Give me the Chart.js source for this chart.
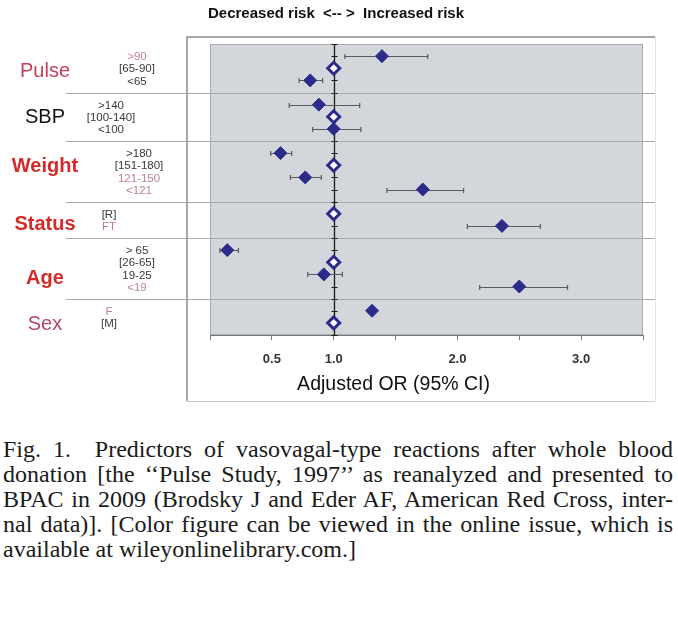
<!DOCTYPE html>
<html>
<head>
<meta charset="utf-8">
<script src="https://cdn.jsdelivr.net/npm/chart.js"></script>
<style>
  body { margin: 0; background: #fff; }
  #wrap { position: relative; width: 678px; height: 410px; }
  #caption {
    position: absolute; left: 3px; top: 437px; width: 670px;
    font-family: "Liberation Serif", "Times New Roman", serif;
    font-size: 24px; line-height: 25px; color: #1a1a1a;
  }
  #caption div { text-align: justify; text-align-last: justify; white-space: nowrap; }
  #caption div.last { text-align-last: left; }
</style>
</head>
<body>
<div id="wrap"><canvas id="forest"></canvas></div>
<div id="caption">
  <div>Fig. 1.&nbsp; Predictors of vasovagal-type reactions after whole blood</div>
  <div>donation [the ‘‘Pulse Study, 1997’’ as reanalyzed and presented to</div>
  <div>BPAC in 2009 (Brodsky J and Eder AF, American Red Cross, inter-</div>
  <div>nal data)]. [Color figure can be viewed in the online issue, which is</div>
  <div class="last">available at wileyonlinelibrary.com.]</div>
</div>
<script>
// predictor groups and their categories (one entry per row)
const groups = ['Pulse', 'SBP', 'Weight', 'Status', 'Age', 'Sex'];
const rowLabels = ['>90', '[65-90]', '<65',
  '>140', '[100-140]', '<100',
  '>180', '[151-180]', '121-150', '<121',
  '[R]', 'FT',
  '> 65', '[26-65]', '19-25', '<19',
  'F', '[M]'];
const rowGroup = [0, 0, 0, 1, 1, 1, 2, 2, 2, 2, 3, 3, 4, 4, 4, 4, 5, 5];
const referenceRow = [false, true, false, false, true, false, false, true, false, false, true, false, false, true, false, false, false, true];

// adjusted odds ratios and 95% CI
const oddsRatio = [1.39, 1.0, 0.81, 0.88, 1.0, 1.0, 0.57, 1.0, 0.77, 1.72, 1.0, 2.36, 0.14, 1.0, 0.92, 2.50, 1.31, 1.0];
const ciLow =  [1.09, null, 0.72, 0.64, null, 0.83, 0.49, null, 0.65, 1.43, null, 2.08, 0.08, null, 0.79, 2.18, null, null];
const ciHigh = [1.76, null, 0.91, 1.21, null, 1.22, 0.66, null, 0.90, 2.05, null, 2.67, 0.23, null, 1.07, 2.89, null, null];

const xTickLabels = [0.5, 1.0, 2.0, 3.0];
const refValue = 1.0;

// styles
const groupStyle = [
  { color: '#c4405a', weight: 'normal', shift: 0.3, subX: 137 },
  { color: '#111111', weight: 'normal', shift: 0.1, subX: 111 },
  { color: '#d42a2a', weight: 'bold', shift: -0.4, subX: 139 },
  { color: '#d42a2a', weight: 'bold', shift: 0.35, subX: 109 },
  { color: '#d42a2a', weight: 'bold', shift: 0.8, subX: 137 },
  { color: '#b04a68', weight: 'normal', shift: 0.6, subX: 109 }
];
const pinkLabels = ['>90', '121-150', '<121', 'FT', '<19', 'F'];
const SANS = '"Liberation Sans", Arial, sans-serif';

// row positions on the y scale: one step per row, one blank step between groups
const rowY = rowLabels.map((l, i) => i + rowGroup[i]);

const filled = [], refs = [];
rowLabels.forEach((l, i) => {
  const p = { x: oddsRatio[i], y: rowY[i] };
  (referenceRow[i] ? refs : filled).push(p);
});

const forestDecor = {
  id: 'forestDecor',
  beforeDraw(chart) {
    const { ctx, chartArea: a } = chart;
    ctx.save();
    // outer frame
    const fl = a.left - 23, fr = a.right + 12, ft = a.top - 7, fb = a.bottom + 66;
    ctx.lineWidth = 1;
    ctx.strokeStyle = '#e2e2e2';
    ctx.beginPath(); ctx.moveTo(fr + 0.5, ft); ctx.lineTo(fr + 0.5, fb); ctx.stroke();
    ctx.strokeStyle = '#c8c8c8';
    ctx.beginPath(); ctx.moveTo(fl, fb + 0.5); ctx.lineTo(fr, fb + 0.5); ctx.stroke();
    ctx.strokeStyle = '#8a8a8a';
    ctx.lineWidth = 1.5;
    ctx.beginPath(); ctx.moveTo(fr, ft); ctx.lineTo(fl, ft); ctx.lineTo(fl, fb); ctx.stroke();
    // plot background
    ctx.fillStyle = '#d3d7db';
    ctx.fillRect(a.left, a.top, a.right - a.left, a.bottom - a.top);
    ctx.lineWidth = 1;
    ctx.strokeStyle = '#a9abae';
    ctx.strokeRect(a.left + 0.5, a.top + 0.5, a.right - a.left - 1, a.bottom - a.top - 1);
    // title
    ctx.fillStyle = '#111';
    ctx.font = 'bold 15px ' + SANS;
    ctx.textAlign = 'center';
    ctx.textBaseline = 'middle';
    ctx.fillText('Decreased risk  <-- >  Increased risk', chart.width / 2 - 3, 14);
    ctx.restore();
  },
  beforeDatasetsDraw(chart) {
    const { ctx, chartArea: a, scales: { x, y } } = chart;
    ctx.save();
    // group separators
    ctx.strokeStyle = '#a8a8a8';
    ctx.lineWidth = 1;
    groups.forEach((g, gi) => {
      if (gi === groups.length - 1) return;
      const ys = rowY.filter((v, i) => rowGroup[i] === gi);
      const py = Math.round(y.getPixelForValue(Math.max(...ys) + 1)) + 0.5;
      ctx.beginPath(); ctx.moveTo(66, py); ctx.lineTo(a.right + 12, py); ctx.stroke();
    });
    // reference line at OR = 1
    const rx = Math.round(x.getPixelForValue(refValue)) + 0.5;
    ctx.strokeStyle = '#1a1a1a';
    ctx.lineWidth = 1.3;
    ctx.beginPath(); ctx.moveTo(rx, a.top); ctx.lineTo(rx, a.bottom); ctx.stroke();
    ctx.lineWidth = 1;
    for (let v = y.min; v <= y.max; v++) {
      const py = Math.round(y.getPixelForValue(v)) + 0.5;
      ctx.beginPath(); ctx.moveTo(rx - 3, py); ctx.lineTo(rx + 3, py); ctx.stroke();
    }
    // confidence intervals
    ctx.strokeStyle = '#5a5a5a';
    ctx.lineWidth = 1.2;
    rowLabels.forEach((l, i) => {
      if (ciLow[i] == null) return;
      const py = Math.round(y.getPixelForValue(rowY[i])) + 0.5;
      const x1 = x.getPixelForValue(ciLow[i]), x2 = x.getPixelForValue(ciHigh[i]);
      ctx.beginPath();
      ctx.moveTo(x1, py); ctx.lineTo(x2, py);
      ctx.moveTo(x1, py - 2.5); ctx.lineTo(x1, py + 2.5);
      ctx.moveTo(x2, py - 2.5); ctx.lineTo(x2, py + 2.5);
      ctx.stroke();
    });
    ctx.restore();
  },
  afterDraw(chart) {
    const { ctx, chartArea: a, scales: { x, y } } = chart;
    ctx.save();
    ctx.textAlign = 'center';
    ctx.textBaseline = 'middle';
    // group names
    groups.forEach((g, gi) => {
      const ys = rowY.filter((v, i) => rowGroup[i] === gi);
      const mid = (Math.min(...ys) + Math.max(...ys)) / 2 + groupStyle[gi].shift;
      ctx.font = groupStyle[gi].weight + ' 20px ' + SANS;
      ctx.fillStyle = groupStyle[gi].color;
      ctx.fillText(g, 45, y.getPixelForValue(mid));
    });
    // category labels
    ctx.font = '11.5px ' + SANS;
    rowLabels.forEach((l, i) => {
      ctx.fillStyle = pinkLabels.includes(l) ? '#c08090' : '#3a3a3a';
      ctx.fillText(l, groupStyle[rowGroup[i]].subX, y.getPixelForValue(rowY[i]) + 1);
    });
    // axis title
    ctx.font = '19.5px ' + SANS;
    ctx.fillStyle = '#111';
    ctx.fillText('Adjusted OR (95% CI)', x.getPixelForValue(1.5) - 2, a.bottom + 50);
    ctx.restore();
  }
};

new Chart(document.getElementById('forest'), {
  type: 'scatter',
  data: {
    datasets: [{
      label: 'Adjusted OR',
      data: filled,
      pointStyle: 'rectRot',
      pointRadius: 6.5,
      backgroundColor: '#2b2b8a',
      borderColor: '#2b2b8a',
      borderWidth: 1
    }, {
      label: 'Reference',
      data: refs,
      pointStyle: 'rectRot',
      pointRadius: 6,
      backgroundColor: '#ffffff',
      borderColor: '#2b2b8a',
      borderWidth: 3
    }]
  },
  options: {
    responsive: true,
    maintainAspectRatio: false,
    animation: false,
    layout: { padding: { left: 210, right: 35, top: 44, bottom: 0 } },
    plugins: {
      legend: { display: false },
      tooltip: { enabled: false }
    },
    scales: {
      x: {
        type: 'linear',
        min: 0,
        max: 3.5,
        afterFit(scale) { scale.height = 75; },
        ticks: {
          stepSize: 0.5,
          autoSkip: false,
          maxRotation: 0,
          padding: 12,
          color: '#333',
          font: { family: SANS, size: 13, weight: 'bold' },
          callback: (v) => xTickLabels.includes(v) ? v.toFixed(1) : ''
        },
        grid: { drawOnChartArea: false, tickLength: 5, color: '#777' },
        border: { color: '#777', width: 1 }
      },
      y: {
        type: 'linear',
        display: false,
        reverse: true,
        min: -1,
        max: 23
      }
    }
  },
  plugins: [forestDecor]
});
</script>
</body>
</html>
